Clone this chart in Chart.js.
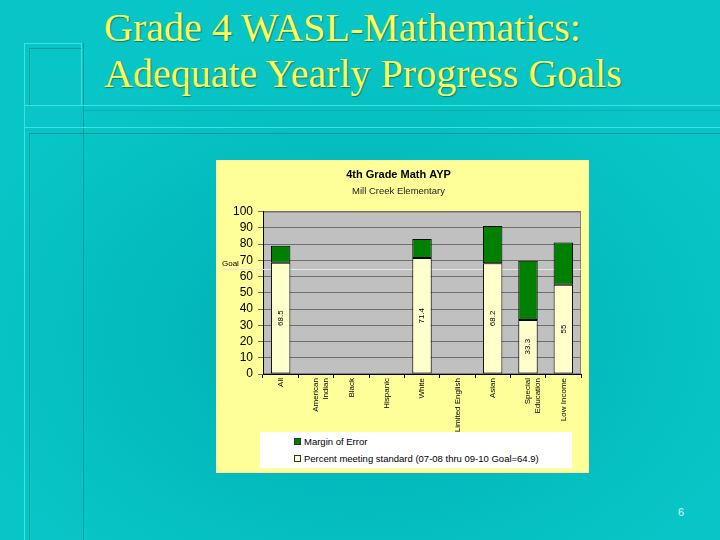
<!DOCTYPE html>
<html>
<head>
<meta charset="utf-8">
<script src="https://cdn.jsdelivr.net/npm/chart.js@4.4.1/dist/chart.umd.min.js"></script>
<style>
  html, body { margin: 0; padding: 0; }
  body {
    width: 720px; height: 540px; position: relative; overflow: hidden;
    background: radial-gradient(ellipse 420px 300px at 50% 62%, #02abae 0%, #03b9bb 45%, #08c6c7 100%);
    font-family: "Liberation Sans", Arial, sans-serif;
  }
  .ln { position: absolute; }
  .lt { background: #3fe0e0; }
  .dk { background: #07979c; }
  #slideTitle {
    position: absolute; left: 104px; top: 5px; margin: 0;
    font-family: "Liberation Serif", "Times New Roman", serif;
    font-weight: normal; font-size: 40px; line-height: 46px;
    color: #ffff55; text-shadow: 1px 1px 1px rgba(0,80,80,0.6);
    white-space: nowrap;
  }
  #panel {
    position: absolute; left: 216px; top: 160px; width: 373px; height: 313px;
    background: #ffff99;
  }
  #panel canvas { position: absolute; left: 0; top: 0; }
  #legend {
    position: absolute; left: 44px; top: 272px; width: 312px; height: 36px;
    background: #ffffff; font-size: 9.5px; color: #000;
  }
  #legend .item { position: absolute; left: 34px; height: 11px; line-height: 11px; white-space: nowrap; }
  #legend .box { display: inline-block; width: 5px; height: 5px; border: 1px solid #333; margin-right: 3px; vertical-align: 0px; }
  #pageNo { position: absolute; left: 678px; top: 506px; font-size: 11px; color: #d8ffff; }
</style>
</head>
<body>
<!-- slide decoration -->
<div class="ln lt" style="left:24px;top:43px;width:58px;height:1px"></div>
<div class="ln dk" style="left:29px;top:48px;width:52px;height:1px"></div>
<div class="ln lt" style="left:24px;top:43px;width:1px;height:497px"></div>
<div class="ln dk" style="left:29px;top:48px;width:1px;height:57px"></div>
<div class="ln dk" style="left:29px;top:133px;width:1px;height:407px"></div>
<div class="ln lt" style="left:81px;top:43px;width:1px;height:62px"></div>
<div class="ln dk" style="left:83px;top:43px;width:1px;height:497px"></div>
<div class="ln lt" style="left:24px;top:105px;width:696px;height:1px"></div>
<div class="ln dk" style="left:83px;top:110px;width:637px;height:1px;opacity:.5"></div>
<div class="ln lt" style="left:24px;top:127px;width:696px;height:1px"></div>
<div class="ln dk" style="left:29px;top:133px;width:691px;height:1px"></div>

<h1 id="slideTitle">Grade 4 WASL-Mathematics:<br>Adequate Yearly Progress Goals</h1>

<div id="panel">
  <canvas id="aypChart" width="373" height="272"></canvas>
  <div id="legend"></div>
</div>
<div id="pageNo">6</div>

<script>
const categories = ['All', ['American', 'Indian'], 'Black', 'Hispanic', 'White',
  'Limited English', 'Asian', ['Special', 'Education'], 'Low Income'];
const percentMeeting = [68.5, null, null, null, 71.4, null, 68.2, 33.3, 55];
const marginOfError = [10.5, null, null, null, 11.7, null, 23.0, 36.5, 25.9];
const yTicks = [0, 10, 20, 30, 40, 50, 60, 70, 80, 90, 100];
const goal = 64.9;

Chart.defaults.font.family = '"Liberation Sans", Arial, sans-serif';
Chart.defaults.color = '#000';

// goal line behind the bars, value labels inside the white bars
const aypExtras = {
  id: 'aypExtras',
  beforeDatasetsDraw(chart) {
    const c = chart.ctx, y = chart.scales.y.getPixelForValue(goal);
    c.save();
    c.strokeStyle = '#e6e6e6';
    c.lineWidth = 1;
    c.beginPath();
    c.moveTo(6, Math.round(y) + 0.5);
    c.lineTo(chart.chartArea.right, Math.round(y) + 0.5);
    c.stroke();
    c.fillStyle = '#000';
    c.font = '8px "Liberation Sans", Arial';
    c.textBaseline = 'bottom';
    c.fillText('Goal', 6, y - 1);
    c.restore();
  },
  afterDatasetsDraw(chart) {
    const c = chart.ctx;
    const meta = chart.getDatasetMeta(0);
    c.save();
    c.fillStyle = '#000';
    c.font = '8px "Liberation Sans", Arial';
    c.textAlign = 'center';
    c.textBaseline = 'middle';
    meta.data.forEach((bar, i) => {
      const v = percentMeeting[i];
      if (v == null) return;
      c.save();
      c.translate(bar.x, (bar.y + bar.base) / 2);
      c.rotate(-Math.PI / 2);
      c.fillText(String(v), 0, 0);
      c.restore();
    });
    c.restore();
  }
};

const chart = new Chart(document.getElementById('aypChart'), {
  type: 'bar',
  data: {
    labels: categories,
    datasets: [{
      label: 'Percent meeting standard (07-08 thru 09-10 Goal=64.9)',
      data: percentMeeting,
      backgroundColor: '#ffffcc',
      borderColor: '#000',
      borderWidth: 1,
      borderSkipped: false,
      barPercentage: 0.55,
      categoryPercentage: 1
    }, {
      label: 'Margin of Error',
      data: marginOfError,
      backgroundColor: '#008000',
      borderColor: '#000',
      borderWidth: 1,
      borderSkipped: false,
      barPercentage: 0.55,
      categoryPercentage: 1
    }]
  },
  options: {
    responsive: false,
    animation: false,
    layout: { padding: { left: 0, right: 8, top: 0, bottom: 0 } },
    plugins: {
      legend: { display: false },
      tooltip: { enabled: false },
      title: {
        display: true, text: '4th Grade Math AYP',
        font: { size: 11, weight: 'bold' }, padding: { top: 8, bottom: 3 }
      },
      subtitle: {
        display: true, text: 'Mill Creek Elementary',
        font: { size: 9.5 }, color: '#222', padding: { top: 1, bottom: 15 }
      }
    },
    scales: {
      x: {
        stacked: true,
        grid: { display: true, offset: true, drawOnChartArea: false, color: '#000', tickLength: 4 },
        border: { color: '#000' },
        ticks: { font: { size: 8 }, maxRotation: 90, minRotation: 90, autoSkip: false, padding: 0 },
        afterFit(scale) { scale.height = 58; }
      },
      y: {
        stacked: true,
        min: 0, max: 100,
        afterBuildTicks(scale) { scale.ticks = yTicks.map(v => ({ value: v })); },
        grid: { color: '#6e6e6e', tickLength: 5 },
        border: { color: '#000' },
        ticks: { font: { size: 12 }, padding: 5, autoSkip: false, stepSize: 10 },
        afterFit(scale) { scale.width = 47; }
      }
    }
  },
  plugins: [{
    id: 'plotBg',
    beforeDraw(chart) {
      const a = chart.chartArea, c = chart.ctx;
      c.save();
      c.fillStyle = '#c0c0c0';
      c.fillRect(a.left, a.top, a.right - a.left, a.bottom - a.top);
      c.strokeStyle = '#808080';
      c.strokeRect(a.left + 0.5, a.top + 0.5, a.right - a.left - 1, a.bottom - a.top - 1);
      c.restore();
    }
  }, aypExtras]
});

// legend built from the chart's datasets, listed in reverse order
const legend = document.getElementById('legend');
chart.data.datasets.slice().reverse().forEach((ds, i) => {
  const item = document.createElement('div');
  item.className = 'item';
  item.style.top = (4 + i * 17) + 'px';
  item.innerHTML = '<span class="box" style="background:' + ds.backgroundColor + '"></span>' + ds.label;
  legend.appendChild(item);
});
</script>
</body>
</html>
